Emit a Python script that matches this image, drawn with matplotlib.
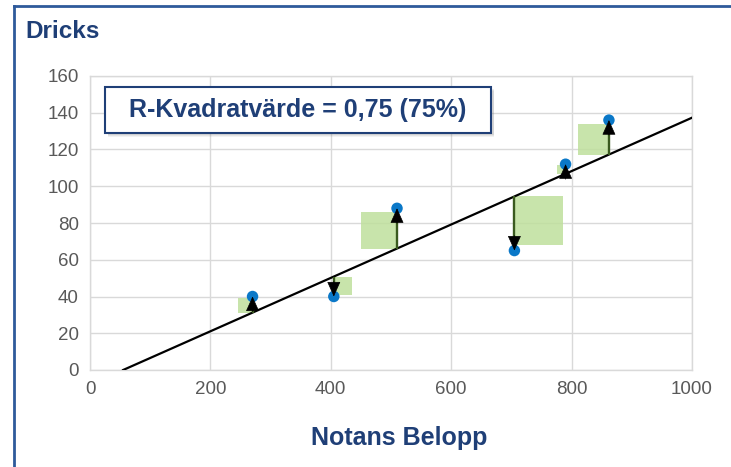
import matplotlib
matplotlib.use("Agg")
import matplotlib.pyplot as plt
from matplotlib.patches import Rectangle
from matplotlib.lines import Line2D
import numpy as np

plt.rcParams['font.family'] = ['Liberation Sans', 'DejaVu Sans']

# ---- data ----
bill = [270, 405, 510, 705, 790, 862]          # Notans Belopp
tip = [40, 40, 88, 65, 112, 136]               # Dricks
trend_x = [55, 1000]
trend_y = [0, 137.3]
x_ticks = [0, 200, 400, 600, 800, 1000]
y_ticks = [0, 20, 40, 60, 80, 100, 120, 140, 160]
title = "Dricks"
xlabel = "Notans Belopp"
r2_text = "R-Kvadratvärde = 0,75 (75%)"

W, H = 731, 467
fig = plt.figure(figsize=(W / 100, H / 100), dpi=100)
navy = "#1F3F77"

ax = fig.add_axes([90 / W, 1 - 370 / H, (692 - 90) / W, (370 - 76) / H])
ax.set_xlim(0, 1000)
ax.set_ylim(0, 160)
ax.set_xticks(x_ticks)
ax.set_yticks(y_ticks)
ax.grid(True, color="#D9D9D9", lw=1)
ax.set_axisbelow(True)
for s in ax.spines.values():
    s.set_color("#D9D9D9")
    s.set_linewidth(1)
ax.tick_params(length=0, labelsize=13.5, labelcolor="#595959", pad=8)

slope = (trend_y[1] - trend_y[0]) / (trend_x[1] - trend_x[0])
def line_at(x):
    return trend_y[0] + slope * (x - trend_x[0])

# pixel scale
px_per_x = ax.bbox.width / 1000.0
px_per_y = ax.bbox.height / 160.0

# residual squares
for x, y in zip(bill, tip):
    yl = line_at(x)
    r = y - yl
    side_y = 0.9 * abs(r)
    side_x = side_y * px_per_y / px_per_x
    if r > 0:
        x0 = x - side_x
        y0 = yl
    else:
        x0 = x
        y0 = yl - side_y
    ax.add_patch(Rectangle((x0, y0), side_x, side_y, facecolor="#BFE09C",
                           edgecolor="none", alpha=0.85, zorder=2))

ax.plot(trend_x, trend_y, color="black", lw=1.6, zorder=3)

ax.scatter(bill, tip, s=68, color="#0A78C8", zorder=4, edgecolors="none")

head_len = 10 / px_per_y  # data units for head length
for x, y in zip(bill, tip):
    yl = line_at(x)
    sgn = 1 if y > yl else -1
    ax.plot([x, x], [yl, y - sgn * head_len * 0.8], color="#3A5A1F", lw=1.7,
            zorder=5, solid_capstyle="butt")
    ax.annotate("", xy=(x, y), xytext=(x, y - sgn * head_len * 1.5),
                arrowprops=dict(arrowstyle="-|>,head_length=0.6,head_width=0.27",
                                color="black", lw=0.5,
                                mutation_scale=16, shrinkA=0, shrinkB=0),
                zorder=6)

# R-squared box with shadow
bx0, by0, bw, bh = 15 / 602, (370 - 133) / 294, 386 / 602, 46 / 294
for i, a in enumerate([0.10, 0.12, 0.15]):
    off = (4 - i)
    ax.add_patch(Rectangle((bx0 + 3 / 602, by0 - off / 294), bw, bh,
                           transform=ax.transAxes, facecolor="#808080",
                           edgecolor="none", alpha=a, zorder=7))
ax.add_patch(Rectangle((bx0, by0), bw, bh, transform=ax.transAxes,
                       facecolor="white", edgecolor=navy, lw=1.5, zorder=8))
ax.text(bx0 + bw / 2, by0 + bh / 2, r2_text, transform=ax.transAxes,
        ha="center", va="center", fontsize=18, fontweight="bold",
        color=navy, zorder=9)

ax.set_xlabel(xlabel, fontsize=18, fontweight="bold", color=navy)
ax.xaxis.set_label_coords((399 - 90) / 602, -(438 - 370) / 294)
ax.xaxis.label.set_va("center")

fig.text(25 / W, 1 - 31 / H, title, ha="left", va="center", fontsize=17.5,
         fontweight="bold", color=navy)

# frame
fig.add_artist(Line2D([14 / W, 1], [1 - 6 / H, 1 - 6 / H], color="#2E5A9A", lw=2,
                      transform=fig.transFigure))
fig.add_artist(Line2D([14 / W, 14 / W], [0, 1 - 6 / H], color="#2E5A9A", lw=2,
                      transform=fig.transFigure))

fig.savefig("out.png", dpi=100)
